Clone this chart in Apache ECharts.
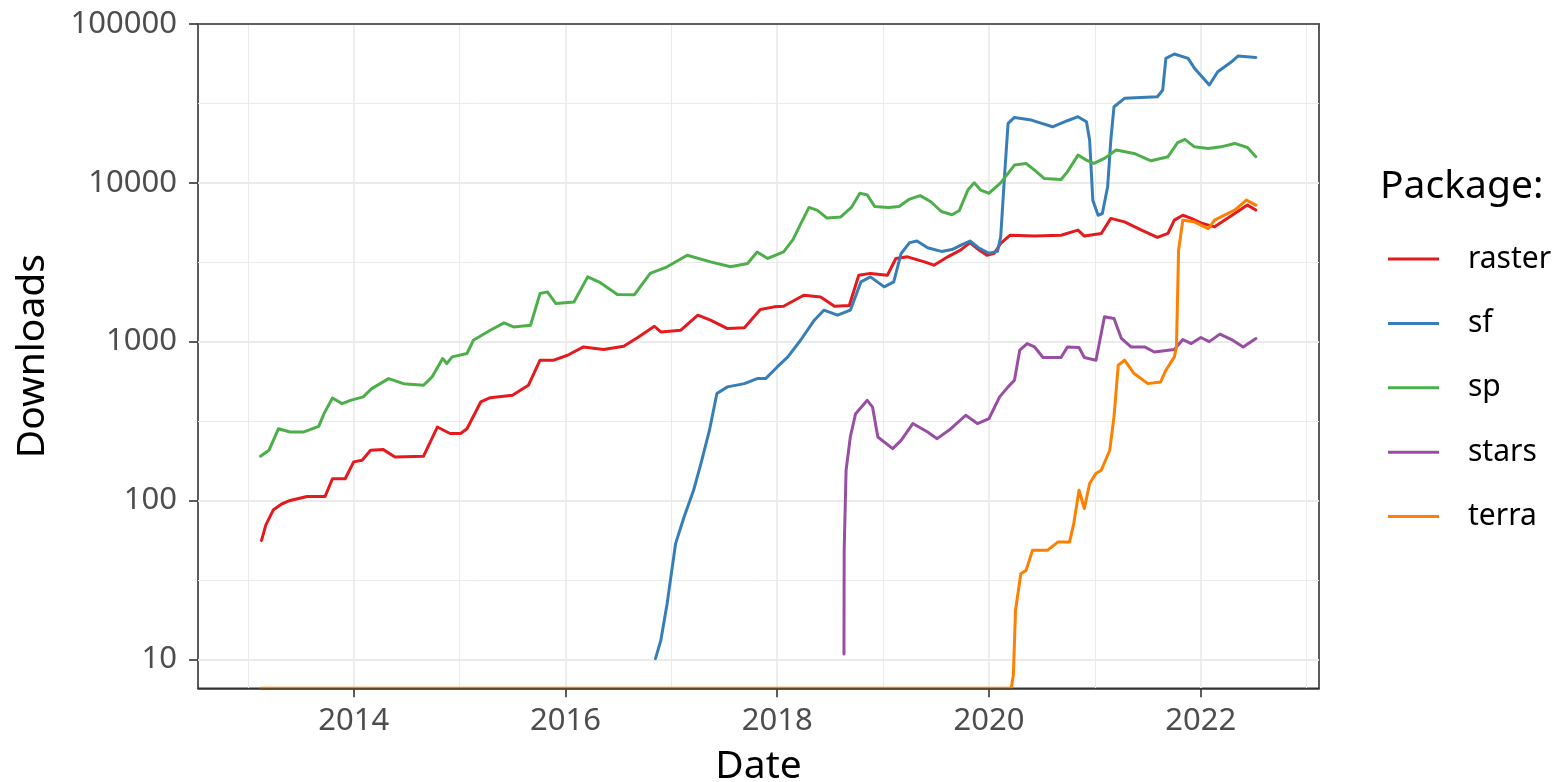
<!DOCTYPE html>
<html>
<head>
<meta charset="utf-8">
<title>Package downloads</title>
<script src="https://cdn.jsdelivr.net/npm/echarts@6.0.0/dist/echarts.min.js"></script>
<style>
  html, body { margin: 0; padding: 0; background: #fff; }
  #chart { width: 1562px; height: 782px; }
</style>
</head>
<body>
<div id="chart"></div>
<script>
// [decimal year, downloads]
const raster = [
  [2013.13, 56], [2013.17, 70], [2013.24, 87], [2013.32, 95], [2013.40, 100], [2013.56, 106],
  [2013.73, 106], [2013.80, 137], [2013.92, 137], [2014.00, 175], [2014.08, 179], [2014.16, 207],
  [2014.28, 209], [2014.39, 188], [2014.66, 190], [2014.79, 290], [2014.91, 264], [2015.01, 264],
  [2015.07, 283], [2015.20, 417], [2015.29, 444], [2015.50, 460], [2015.65, 531], [2015.76, 764],
  [2015.89, 764], [2016.02, 821], [2016.17, 926], [2016.36, 892], [2016.55, 935], [2016.69, 1071],
  [2016.84, 1250], [2016.90, 1152], [2017.09, 1180], [2017.25, 1467], [2017.37, 1365], [2017.53, 1209],
  [2017.69, 1225], [2017.84, 1593], [2017.97, 1656], [2018.06, 1670], [2018.25, 1960], [2018.41, 1913],
  [2018.54, 1670], [2018.68, 1690], [2018.77, 2620], [2018.88, 2690], [2019.04, 2620], [2019.12, 3340],
  [2019.23, 3420], [2019.39, 3180], [2019.48, 3030], [2019.61, 3420], [2019.73, 3770], [2019.82, 4200],
  [2019.90, 3800], [2019.98, 3500], [2020.05, 3600], [2020.11, 4150], [2020.20, 4680], [2020.43, 4620],
  [2020.68, 4680], [2020.84, 5040], [2020.90, 4620], [2021.06, 4800], [2021.15, 5970], [2021.28, 5680],
  [2021.44, 5040], [2021.59, 4530], [2021.69, 4800], [2021.75, 5820], [2021.83, 6250], [2021.91, 5970],
  [2022.00, 5600], [2022.13, 5280], [2022.32, 6410], [2022.44, 7240], [2022.52, 6740]
];
const sf = [
  [2016.85, 10.1], [2016.90, 13.1], [2016.96, 22.4], [2017.04, 53.5], [2017.12, 78.7], [2017.21, 116],
  [2017.28, 171], [2017.36, 277], [2017.43, 471], [2017.53, 519], [2017.69, 544], [2017.81, 585],
  [2017.89, 585], [2018.00, 693], [2018.10, 802], [2018.22, 1020], [2018.35, 1365], [2018.44, 1578],
  [2018.57, 1467], [2018.69, 1578], [2018.79, 2377], [2018.88, 2558], [2019.01, 2213], [2019.10, 2377],
  [2019.17, 3590], [2019.25, 4200], [2019.32, 4300], [2019.42, 3900], [2019.55, 3700], [2019.65, 3800],
  [2019.75, 4100], [2019.82, 4300], [2019.90, 3900], [2020.00, 3600], [2020.08, 3700], [2020.11, 4570],
  [2020.15, 12000], [2020.18, 23650], [2020.24, 25800], [2020.40, 24830], [2020.60, 22530], [2020.74, 24600],
  [2020.84, 26080], [2020.92, 24220], [2020.95, 18570], [2020.98, 7780], [2021.03, 6250], [2021.07, 6410],
  [2021.12, 9440], [2021.15, 18570], [2021.18, 30120], [2021.28, 34040], [2021.59, 34850], [2021.64, 38400],
  [2021.67, 60800], [2021.75, 64700], [2021.88, 60800], [2021.94, 52600], [2022.08, 41300], [2022.16, 50000],
  [2022.29, 57800], [2022.35, 62800], [2022.52, 61600]
];
const sp = [
  [2013.12, 190], [2013.20, 207], [2013.29, 283], [2013.40, 270], [2013.53, 270], [2013.67, 293],
  [2013.72, 352], [2013.80, 442], [2013.89, 407], [2013.97, 427], [2014.09, 449], [2014.17, 506],
  [2014.33, 585], [2014.47, 544], [2014.66, 531], [2014.74, 600], [2014.84, 783], [2014.88, 728],
  [2014.93, 802], [2015.07, 842], [2015.13, 1020], [2015.29, 1180], [2015.42, 1313], [2015.51, 1238],
  [2015.67, 1269], [2015.76, 2009], [2015.83, 2057], [2015.91, 1737], [2016.08, 1779], [2016.21, 2558],
  [2016.33, 2350], [2016.49, 1980], [2016.65, 1970], [2016.80, 2690], [2016.96, 2960], [2017.15, 3500],
  [2017.37, 3180], [2017.56, 2960], [2017.72, 3105], [2017.81, 3670], [2017.91, 3340], [2018.06, 3670],
  [2018.15, 4400], [2018.22, 5500], [2018.30, 7000], [2018.38, 6700], [2018.47, 6000], [2018.60, 6100],
  [2018.70, 7000], [2018.78, 8600], [2018.85, 8400], [2018.92, 7100], [2019.05, 7000], [2019.15, 7100],
  [2019.25, 7900], [2019.35, 8300], [2019.45, 7600], [2019.55, 6600], [2019.65, 6300], [2019.72, 6700],
  [2019.80, 9000], [2019.86, 10000], [2019.92, 9000], [2020.00, 8600], [2020.11, 10000], [2020.24, 12940],
  [2020.35, 13240], [2020.43, 12020], [2020.52, 10660], [2020.68, 10500], [2020.74, 11720], [2020.84, 14950],
  [2020.92, 13900], [2020.99, 13240], [2021.09, 14250], [2021.20, 16080], [2021.37, 15300], [2021.53, 13770],
  [2021.69, 14600], [2021.78, 17880], [2021.85, 18770], [2021.94, 16850], [2022.07, 16470], [2022.19, 16850],
  [2022.32, 17700], [2022.44, 16700], [2022.52, 14600]
];
const stars = [
  [2018.630, 10.8], [2018.632, 48.5], [2018.65, 155], [2018.69, 251], [2018.74, 352], [2018.85, 427],
  [2018.90, 387], [2018.95, 251], [2019.09, 212], [2019.17, 239], [2019.28, 305], [2019.42, 270],
  [2019.51, 245], [2019.64, 283], [2019.78, 344], [2019.89, 305], [2020.00, 328], [2020.10, 449],
  [2020.18, 519], [2020.24, 572], [2020.29, 883], [2020.36, 973], [2020.43, 926], [2020.51, 794],
  [2020.68, 794], [2020.74, 926], [2020.85, 918], [2020.90, 794], [2021.01, 764], [2021.09, 1433],
  [2021.18, 1400], [2021.25, 1047], [2021.34, 926], [2021.47, 926], [2021.56, 861], [2021.75, 892],
  [2021.83, 1031], [2021.91, 973], [2022.00, 1062], [2022.08, 1000], [2022.18, 1115], [2022.29, 1031],
  [2022.40, 926], [2022.52, 1047]
];
const terra = [
  [2013.12, 0], [2020.21, 0], [2020.23, 8], [2020.25, 20.3], [2020.30, 34.6], [2020.35, 36.3],
  [2020.41, 48.5], [2020.55, 48.5], [2020.65, 54.7], [2020.76, 54.7], [2020.80, 71.5], [2020.85, 116],
  [2020.90, 89], [2020.95, 128], [2021.01, 148], [2021.06, 155], [2021.14, 207], [2021.18, 336],
  [2021.22, 710], [2021.28, 764], [2021.37, 630], [2021.50, 544], [2021.62, 557], [2021.67, 661],
  [2021.75, 802], [2021.77, 926], [2021.79, 3770], [2021.83, 5820], [2021.94, 5680], [2022.07, 5140],
  [2022.13, 5820], [2022.32, 6740], [2022.43, 7780], [2022.52, 7240]
];

const packages = ['raster', 'sf', 'sp', 'stars', 'terra'];
const packageData = [raster, sf, sp, stars, terra];
const colors = ['#E41A1C', '#377EB8', '#4DAF4A', '#984EA3', '#FF7F00'];

const yearTicks = [2014, 2016, 2018, 2020, 2022];
const yearMinor = [2013, 2015, 2017, 2019, 2021, 2023];
const downloadTicks = [10, 100, 1000, 10000, 100000];
const downloadMinor = [31.62, 316.2, 3162, 31623];

const X_MIN = 2012.53, X_MAX = 2023.116;
const Y_MIN = 6.566, Y_MAX = 100000;

const FONT = 'Noto Sans';
const GRID_COLOR = '#ebebeb';
const INK = '#333333';

const chart = echarts.init(document.getElementById('chart'), null, { renderer: 'canvas' });

// axis used only to draw one side of the panel border above the lines
function borderAxis(position) {
  return {
    type: 'value',
    min: X_MIN,
    max: X_MAX,
    position: position,
    z: 10,
    axisLine: { show: true, onZero: false, lineStyle: { color: INK, width: 1.6 } },
    axisTick: { show: false },
    axisLabel: { show: false },
    splitLine: { show: false }
  };
}

const option = {
  animation: false,
  color: colors,
  textStyle: { fontFamily: FONT },
  title: {
    text: 'Package:',
    left: 1380,
    top: 167,
    padding: 0,
    textStyle: { fontFamily: FONT, fontSize: 39, fontWeight: 'normal', color: '#000', lineHeight: 39 }
  },
  legend: {
    data: packages,
    orient: 'vertical',
    left: 1388,
    top: 239,
    padding: 0,
    icon: 'rect',
    itemWidth: 51,
    itemHeight: 3,
    itemGap: 24.4,
    textStyle: { fontFamily: FONT, fontSize: 30, color: '#000', lineHeight: 40, padding: [0, 0, 0, 24] }
  },
  grid: {
    left: 198,
    top: 24,
    width: 1121,
    height: 664.3,
    show: true,
    borderColor: INK,
    borderWidth: 1.6,
    containLabel: false,
    outerBoundsMode: 'none'
  },
  xAxis: [
    {
      type: 'value',
      min: X_MIN,
      max: X_MAX,
      position: 'bottom',
      name: 'Date',
      nameLocation: 'middle',
      nameGap: 59,
      nameTextStyle: { fontFamily: FONT, fontSize: 39, color: '#000' },
      axisLine: { show: false, onZero: false },
      axisTick: { show: true, length: 9, customValues: yearTicks, lineStyle: { color: INK, width: 1.6 } },
      axisLabel: {
        customValues: yearTicks,
        margin: 17,
        fontFamily: FONT,
        fontSize: 31,
        color: '#4d4d4d',
        formatter: v => String(Math.round(v))
      },
      splitLine: { show: true, lineStyle: { color: GRID_COLOR, width: 1.8 } }
    },
    {
      // minor grid lines at odd years
      type: 'value',
      min: X_MIN,
      max: X_MAX,
      position: 'top',
      axisLine: { show: false },
      axisTick: { show: false, customValues: yearMinor },
      axisLabel: { show: false },
      splitLine: { show: true, lineStyle: { color: GRID_COLOR, width: 1 } }
    },
    borderAxis('bottom'),
    borderAxis('top')
  ],
  yAxis: [
    {
      type: 'log',
      logBase: 10,
      min: Y_MIN,
      max: Y_MAX,
      name: 'Downloads',
      nameLocation: 'middle',
      nameGap: 146,
      nameTextStyle: { fontFamily: FONT, fontSize: 39, color: '#000' },
      axisLine: { show: false },
      axisTick: { show: true, length: 9, customValues: downloadTicks, lineStyle: { color: INK, width: 1.6 } },
      axisLabel: {
        customValues: downloadTicks,
        margin: 21,
        fontFamily: FONT,
        fontSize: 31,
        color: '#4d4d4d',
        formatter: v => String(Math.round(v))
      },
      splitLine: { show: true, lineStyle: { color: GRID_COLOR, width: 1.8 } }
    },
    {
      // minor grid lines at half decades
      type: 'log',
      logBase: 10,
      min: Y_MIN,
      max: Y_MAX,
      position: 'right',
      axisLine: { show: false },
      axisTick: { show: false, customValues: downloadMinor },
      axisLabel: { show: false },
      splitLine: { show: true, lineStyle: { color: GRID_COLOR, width: 1 } }
    }
  ],
  series: packages.map((name, i) => ({
    name: name,
    type: 'line',
    xAxisIndex: 0,
    yAxisIndex: 0,
    showSymbol: false,
    symbol: 'none',
    // ggplot puts log(0) on the panel edge
    data: packageData[i].map(([x, y]) => [x, y > 0 ? y : Y_MIN]),
    lineStyle: { color: colors[i], width: 3, cap: 'round', join: 'round' },
    itemStyle: { color: colors[i] }
  }))
};

chart.setOption(option);
</script>
</body>
</html>
